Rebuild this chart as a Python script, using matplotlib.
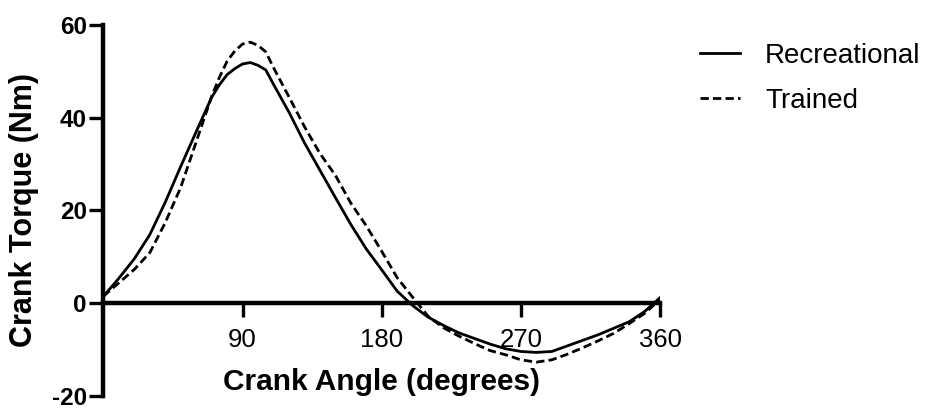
import matplotlib.pyplot as plt

plt.rcParams['font.family'] = ['Liberation Sans', 'DejaVu Sans']
plt.rcParams['lines.scale_dashes'] = False
plt.rcParams['axes.unicode_minus'] = False

# Data
angle = [0, 10, 20, 30, 40, 50, 60, 70, 75, 80, 85, 90, 95, 100, 105, 110,
         120, 130, 140, 150, 160, 170, 180, 190, 200, 210, 220, 230, 240,
         250, 260, 270, 280, 290, 300, 310, 320, 330, 340, 350, 360]
recreational = [1.5, 5.4, 9.6, 14.8, 21.8, 29.5, 37, 44.4, 47.1, 49.3, 50.6,
                51.6, 51.9, 51.3, 50.3, 47.2, 41.2, 34.6, 28.7, 22.8, 17,
                11.7, 7.2, 2.6, -0.5, -3, -4.8, -6.4, -7.6, -8.8, -9.8, -10.4,
                -10.6, -10.4, -9.2, -8, -6.8, -5.4, -4, -1.8, 1.2]
trained = [1.5, 4.4, 7.3, 10.9, 17.4, 25, 34.8, 44.6, 48.7, 52.2, 54.4,
           55.9, 56.3, 55.6, 54.2, 50.8, 44.5, 38.1, 32.3, 27.6, 21.6,
           16.7, 11.2, 5.5, 1.3, -2.8, -5.3, -7.1, -8.7, -10.2, -11.1, -12.2,
           -12.7, -12.2, -11, -9.6, -8.1, -6.5, -4.4, -2.2, 0.8]
xticks = [90, 180, 270, 360]
yticks = [-20, 0, 20, 40, 60]

fig = plt.figure(figsize=(9.37, 4.11), dpi=100)
ax = fig.add_axes([0.1104, 0.0365, 0.594, 0.9027])

ax.plot(angle, recreational, color='black', lw=2, label='Recreational')
ax.plot(angle, trained, color='black', lw=2, dashes=(6, 3), label='Trained')

ax.set_xlim(0, 360)
ax.set_ylim(-20, 60)
ax.set_xticks(xticks)
ax.set_yticks(yticks)

ax.spines['top'].set_visible(False)
ax.spines['right'].set_visible(False)
ax.spines['bottom'].set_position(('data', 0))
for s in ('left', 'bottom'):
    ax.spines[s].set_linewidth(3.2)
ax.tick_params(width=2.4, length=10)
ax.tick_params(axis='x', pad=8, labelsize=18.5)
ax.tick_params(axis='y', pad=2, labelsize=17.5)
for lbl in ax.get_yticklabels():
    lbl.set_fontweight('bold')

ax.text(180, -18.7, 'Crank Angle (degrees)', ha='center', va='baseline',
        fontsize=21.5, fontweight='bold')
fig.text(0.0256, 0.489, 'Crank Torque (Nm)', rotation=90, ha='center',
         va='center', fontsize=22, fontweight='bold')

fig.legend(loc='upper left', bbox_to_anchor=(0.747, 0.895), frameon=False,
           fontsize=20, handlelength=1.45, handletextpad=0.9,
           labelspacing=0.68, borderpad=0, borderaxespad=0)

plt.savefig('out.png', dpi=100)
